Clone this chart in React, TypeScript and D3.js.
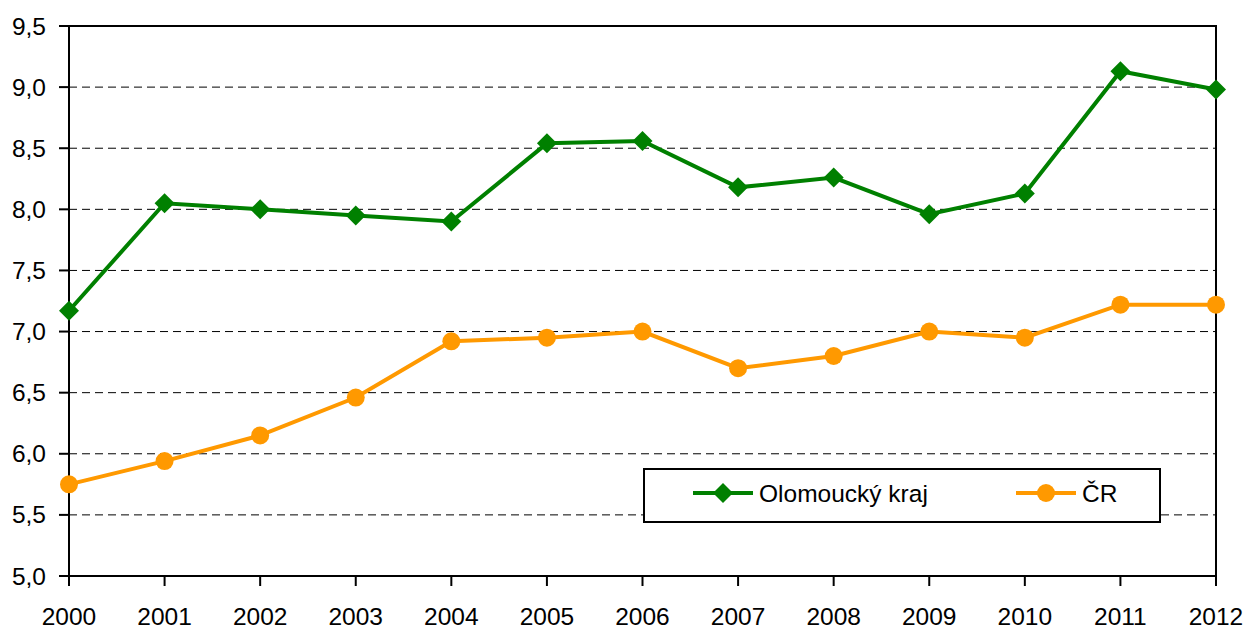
import { useEffect, useRef } from 'react'
import * as d3 from 'd3'

const years = ['2000', '2001', '2002', '2003', '2004', '2005', '2006', '2007', '2008', '2009', '2010', '2011', '2012']
const olomoucky = [7.17, 8.05, 8.0, 7.95, 7.9, 8.54, 8.56, 8.18, 8.26, 7.96, 8.13, 9.13, 8.98]
const cr = [5.75, 5.94, 6.15, 6.46, 6.92, 6.95, 7.0, 6.7, 6.8, 7.0, 6.95, 7.22, 7.22]
const yTicks = [5.0, 5.5, 6.0, 6.5, 7.0, 7.5, 8.0, 8.5, 9.0, 9.5]

const GREEN = '#008000'
const ORANGE = '#ff9900'
const FONT = '"Liberation Sans", Arial, sans-serif'
const FS = 24.5

export default function App() {
  const svgRef = useRef<SVGSVGElement>(null)

  useEffect(() => {
    document.body.style.margin = '0'
    if (!svgRef.current) return
    const svg = d3.select(svgRef.current)
    svg.selectAll('*').remove()

    const left = 69
    const right = 1216
    const top = 26
    const bottom = 576

    const x = d3.scalePoint<string>().domain(years).range([left, right])
    const y = d3.scaleLinear().domain([5, 9.5]).range([bottom, top])

    const g = svg.append('g')

    // grid lines
    g.selectAll('line.grid')
      .data(yTicks.filter(t => t > 5 && t < 9.5))
      .join('line')
      .attr('x1', left)
      .attr('x2', right)
      .attr('y1', d => y(d))
      .attr('y2', d => y(d))
      .attr('stroke', '#000')
      .attr('stroke-width', 1)
      .attr('stroke-dasharray', '8,5')

    // frame
    g.append('rect')
      .attr('x', left)
      .attr('y', top)
      .attr('width', right - left)
      .attr('height', bottom - top)
      .attr('fill', 'none')
      .attr('stroke', '#000')
      .attr('stroke-width', 2)

    // y axis ticks + labels
    g.selectAll('line.ytick')
      .data(yTicks)
      .join('line')
      .attr('x1', left - 10)
      .attr('x2', left)
      .attr('y1', d => y(d))
      .attr('y2', d => y(d))
      .attr('stroke', '#000')
      .attr('stroke-width', 2)

    g.selectAll('text.ylab')
      .data(yTicks)
      .join('text')
      .attr('x', left - 23)
      .attr('y', d => y(d))
      .attr('dy', '0.35em')
      .attr('text-anchor', 'end')
      .attr('font-family', FONT)
      .attr('font-size', FS)
      .attr('fill', '#000')
      .text(d => d.toFixed(1).replace('.', ','))

    // x axis ticks + labels
    g.selectAll('line.xtick')
      .data(years)
      .join('line')
      .attr('x1', d => x(d)!)
      .attr('x2', d => x(d)!)
      .attr('y1', bottom)
      .attr('y2', bottom + 10)
      .attr('stroke', '#000')
      .attr('stroke-width', 2)

    g.selectAll('text.xlab')
      .data(years)
      .join('text')
      .attr('x', d => x(d)!)
      .attr('y', 625)
      .attr('text-anchor', 'middle')
      .attr('font-family', FONT)
      .attr('font-size', FS)
      .attr('fill', '#000')
      .text(d => d)

    const line = d3.line<number>()
      .x((d, i) => x(years[i])!)
      .y(d => y(d))

    const diamond = (cx: number, cy: number, r: number) =>
      `M${cx},${cy - r}L${cx + r},${cy}L${cx},${cy + r}L${cx - r},${cy}Z`

    // series lines
    g.append('path')
      .datum(cr)
      .attr('d', line)
      .attr('fill', 'none')
      .attr('stroke', ORANGE)
      .attr('stroke-width', 4)

    g.selectAll('circle.cr')
      .data(cr)
      .join('circle')
      .attr('cx', (d, i) => x(years[i])!)
      .attr('cy', d => y(d))
      .attr('r', 9)
      .attr('fill', ORANGE)

    g.append('path')
      .datum(olomoucky)
      .attr('d', line)
      .attr('fill', 'none')
      .attr('stroke', GREEN)
      .attr('stroke-width', 4)

    g.selectAll('path.ol')
      .data(olomoucky)
      .join('path')
      .attr('d', (d, i) => diamond(x(years[i])!, y(d), 10))
      .attr('fill', GREEN)

    // legend
    const lg = svg.append('g')
    lg.append('rect')
      .attr('x', 644)
      .attr('y', 469)
      .attr('width', 516)
      .attr('height', 53)
      .attr('fill', '#fff')
      .attr('stroke', '#000')
      .attr('stroke-width', 2)

    const ly = 493
    lg.append('line')
      .attr('x1', 693).attr('x2', 753)
      .attr('y1', ly).attr('y2', ly)
      .attr('stroke', GREEN).attr('stroke-width', 4)
    lg.append('path').attr('d', diamond(723, ly, 10)).attr('fill', GREEN)
    lg.append('text')
      .attr('x', 759).attr('y', ly).attr('dy', '0.35em')
      .attr('font-family', FONT).attr('font-size', FS)
      .text('Olomoucký kraj')

    lg.append('line')
      .attr('x1', 1016).attr('x2', 1076)
      .attr('y1', ly).attr('y2', ly)
      .attr('stroke', ORANGE).attr('stroke-width', 4)
    lg.append('circle').attr('cx', 1046).attr('cy', ly).attr('r', 9).attr('fill', ORANGE)
    lg.append('text')
      .attr('x', 1082).attr('y', ly).attr('dy', '0.35em')
      .attr('font-family', FONT).attr('font-size', FS)
      .text('ČR')
  }, [])

  return <svg ref={svgRef} width={1245} height={632} style={{ display: 'block', background: '#fff' }} />
}
